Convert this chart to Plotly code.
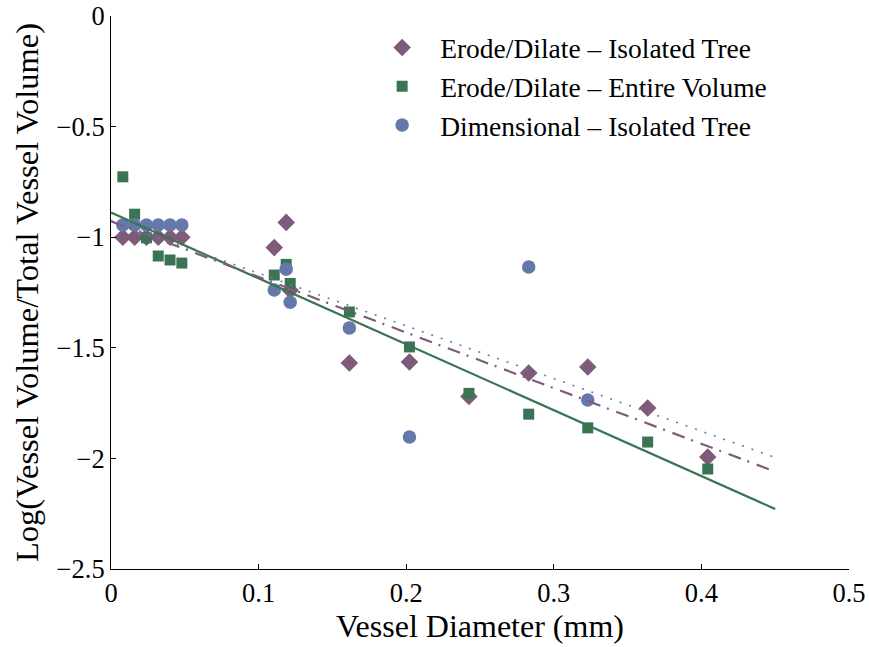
import numpy as np
import plotly.graph_objects as go

# Vessel diameters (mm) at which each method was evaluated
diam_small = [0.008, 0.016, 0.024, 0.032, 0.040, 0.048]

# Erode/Dilate applied to the isolated vessel tree
ed_tree_x = diam_small + [0.1106, 0.1187, 0.1214, 0.1615, 0.2022, 0.2425, 0.2830, 0.3230, 0.3636, 0.4043]
ed_tree_y = [-1.0, -1.0, -1.0, -1.0, -1.0, -1.0,
             -1.047, -0.933, -1.24, -1.569, -1.564, -1.72, -1.614, -1.587, -1.772, -1.994]

# Erode/Dilate applied to the entire volume
ed_vol_x = diam_small + [0.1106, 0.1187, 0.1214, 0.1615, 0.2022, 0.2425, 0.2830, 0.3230, 0.3636, 0.4043]
ed_vol_y = [-0.727, -0.896, -1.003, -1.085, -1.103, -1.117,
            -1.171, -1.123, -1.209, -1.338, -1.496, -1.706, -1.80, -1.862, -1.926, -2.048]

# Dimensional measurement of the isolated tree
dim_x = diam_small + [0.1106, 0.1187, 0.1214, 0.1615, 0.2022, 0.2830, 0.3230]
dim_y = [-0.945, -0.945, -0.945, -0.945, -0.945, -0.945,
         -1.239, -1.145, -1.294, -1.41, -1.903, -1.135, -1.736]

# Linear fits (intercept, slope) drawn over the diameter range
fit_range = [0.0, 0.45]
fit_ed_tree = (-0.928, -2.515)
fit_ed_vol = (-0.888, -2.98)
fit_dim = (-0.925, -2.38)

purple = "#7d5b79"
green = "#3a7452"
blue = "#6479aa"
serif = "Liberation Serif, Times New Roman, serif"

fig = go.Figure()

fig.add_trace(go.Scatter(
    x=ed_tree_x, y=ed_tree_y, mode="markers", name="Erode/Dilate \u2013 Isolated Tree",
    legendgroup="a",
    marker=dict(symbol="diamond", size=13.5, color=purple, line=dict(width=0))))
fig.add_trace(go.Scatter(
    x=ed_vol_x, y=ed_vol_y, mode="markers", name="Erode/Dilate \u2013 Entire Volume",
    legendgroup="b",
    marker=dict(symbol="square", size=11, color=green, line=dict(width=0))))
fig.add_trace(go.Scatter(
    x=dim_x, y=dim_y, mode="markers", name="Dimensional \u2013 Isolated Tree",
    legendgroup="c",
    marker=dict(symbol="circle", size=13.5, color=blue, line=dict(width=0))))


def fit_line(coef):
    xs = np.array(fit_range)
    return xs, coef[0] + coef[1] * xs


fx, fy = fit_line(fit_ed_vol)
fig.add_trace(go.Scatter(x=fx, y=fy, mode="lines", showlegend=False,
                         line=dict(color=green, width=2.2)))
fx, fy = fit_line(fit_ed_tree)
fig.add_trace(go.Scatter(x=fx, y=fy, mode="lines", showlegend=False,
                         line=dict(color=purple, width=2.2, dash="13px,7px,2px,8px")))
fx, fy = fit_line(fit_dim)
fig.add_trace(go.Scatter(x=fx, y=fy, mode="lines", showlegend=False,
                         line=dict(color=blue, width=1.6, dash="2px,8px")))

axis_common = dict(
    showline=True, linecolor="black", linewidth=1,
    ticks="inside", ticklen=5, tickcolor="black", tickwidth=1,
    showgrid=False, zeroline=False, mirror=False, automargin=False,
    tickfont=dict(family=serif, size=26.5, color="black"),
)

fig.update_layout(
    width=869, height=647,
    margin=dict(l=111, r=20, t=16, b=78),
    paper_bgcolor="white", plot_bgcolor="white",
    font=dict(family=serif, color="black"),
    xaxis=dict(range=[0, 0.5], dtick=0.1, tick0=0,
               title=dict(text="Vessel Diameter (mm)", font=dict(family=serif, size=32), standoff=4),
               **axis_common),
    yaxis=dict(range=[-2.5, 0], dtick=0.5, tick0=0,
               title=dict(text="Log(Vessel Volume/Total Vessel Volume)", font=dict(family=serif, size=32.5), standoff=8),
               **axis_common),
    legend=dict(x=0.343, y=0.987, xanchor="left", yanchor="top",
                bgcolor="rgba(0,0,0,0)", borderwidth=0,
                font=dict(family=serif, size=27.5, color="black"),
                itemwidth=66, tracegroupgap=0),
)

fig.write_html("out.html")
